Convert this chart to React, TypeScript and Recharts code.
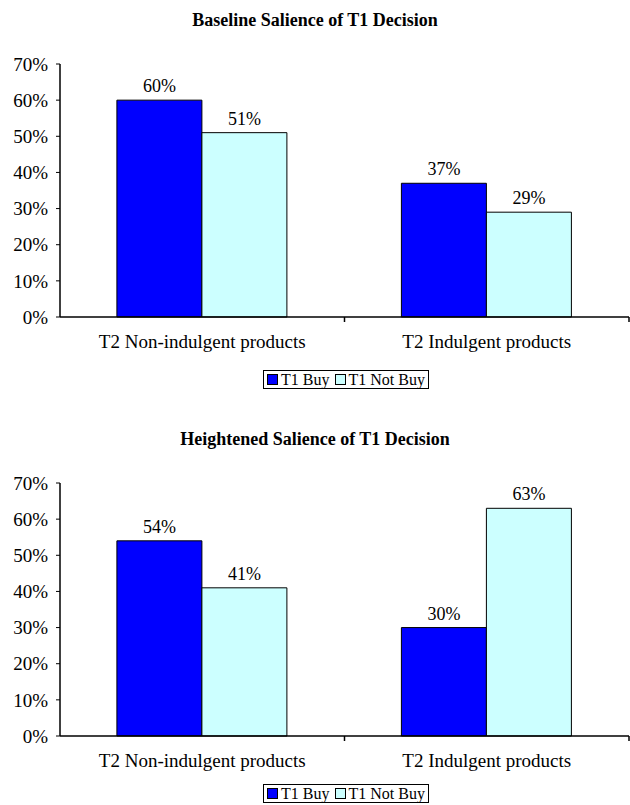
import React from 'react';
import { BarChart, Bar, XAxis, YAxis, LabelList } from 'recharts';

const categories = ['T2 Non-indulgent products', 'T2 Indulgent products'];
const baselineBuy = [60, 37];
const baselineNotBuy = [51, 29];
const heightenedBuy = [54, 30];
const heightenedNotBuy = [41, 63];
const yTicks = [0, 10, 20, 30, 40, 50, 60, 70];

const FONT = '"Liberation Serif", "Times New Roman", serif';
const BUY = '#0000FF';
const NOT_BUY = '#CCFFFF';

const buildRows = (buy: number[], notBuy: number[]) =>
    categories.map((name, i) => ({ name, buy: buy[i], notBuy: notBuy[i] }));

// tick line sits on the category boundary, label in the middle
// eslint-disable-next-line @typescript-eslint/no-explicit-any
const CategoryTick = (props: any) => {
    const { x, y, payload } = props;
    const off = payload.offset || 0;
    return (
        <g>
            <line x1={x + off} x2={x + off} y1={y - 8} y2={y - 3} stroke="#000" strokeWidth={1.5} />
            <text x={x} y={y + 23} textAnchor="middle" fontFamily={FONT} fontSize={19} fill="#000">
                {payload.value}
            </text>
        </g>
    );
};

const BoxLegend = ({ top }: { top: number }) => (
    <div style={{ position: 'absolute', top, left: 246, width: 200, display: 'flex', justifyContent: 'center' }}>
        <div style={{
            border: '1.5px solid #000', padding: '0px 3px', fontFamily: FONT, fontSize: 16,
            display: 'flex', alignItems: 'center', gap: 3, color: '#000', lineHeight: '17px', whiteSpace: 'nowrap'
        }}>
            <span style={{ width: 9, height: 9, background: BUY, border: '1px solid #000', display: 'inline-block' }} />
            <span>T1 Buy</span>
            <span style={{ width: 9, height: 9, background: NOT_BUY, border: '1px solid #000', display: 'inline-block', marginLeft: 2 }} />
            <span>T1 Not Buy</span>
        </div>
    </div>
);

type PanelProps = { title: string; buy: number[]; notBuy: number[]; top: number; legendTop: number };

const Panel = ({ title, buy, notBuy, top, legendTop }: PanelProps) => {
    const data = buildRows(buy, notBuy);
    return (
        <div style={{ position: 'absolute', left: 0, top, width: 630, height: 410 }}>
            <div style={{
                position: 'absolute', top: 10, width: 630, textAlign: 'center',
                fontFamily: FONT, fontWeight: 'bold', fontSize: 18, color: '#000'
            }}>
                {title}
            </div>
            <BarChart width={630} height={370} data={data} barGap={0} barCategoryGap="20%"
                margin={{ top: 64, right: 1, bottom: 23, left: 10 }}>
                <YAxis domain={[0, 70]} ticks={yTicks} tickFormatter={(v) => `${v}%`} width={50}
                    axisLine={{ stroke: '#000', strokeWidth: 1.5 }} tickLine={{ stroke: '#000' }} tickSize={4}
                    tickMargin={8} tick={{ fontFamily: FONT, fontSize: 19, fill: '#000' }} interval={0} />
                <XAxis dataKey="name" axisLine={{ stroke: '#000', strokeWidth: 1.5 }} tickLine={false}
                    tick={<CategoryTick />} height={30} interval={0} />
                <Bar dataKey="buy" fill={BUY} stroke="#000" strokeWidth={1} isAnimationActive={false}>
                    <LabelList dataKey="buy" position="top" offset={8} formatter={(v: any) => `${v}%`}
                        style={{ fontFamily: FONT, fontSize: 18, fill: '#000' }} />
                </Bar>
                <Bar dataKey="notBuy" fill={NOT_BUY} stroke="#000" strokeWidth={1} isAnimationActive={false}>
                    <LabelList dataKey="notBuy" position="top" offset={8} formatter={(v: any) => `${v}%`}
                        style={{ fontFamily: FONT, fontSize: 18, fill: '#000' }} />
                </Bar>
            </BarChart>
            <BoxLegend top={legendTop} />
        </div>
    );
};

const App = () => (
    <div style={{ position: 'absolute', left: 0, top: 0, width: 630, height: 805, background: '#fff', overflow: 'hidden' }}>
        <Panel title="Baseline Salience of T1 Decision" buy={baselineBuy} notBuy={baselineNotBuy} top={0} legendTop={370} />
        <Panel title="Heightened Salience of T1 Decision" buy={heightenedBuy} notBuy={heightenedNotBuy} top={419} legendTop={365} />
    </div>
);

export default App;
